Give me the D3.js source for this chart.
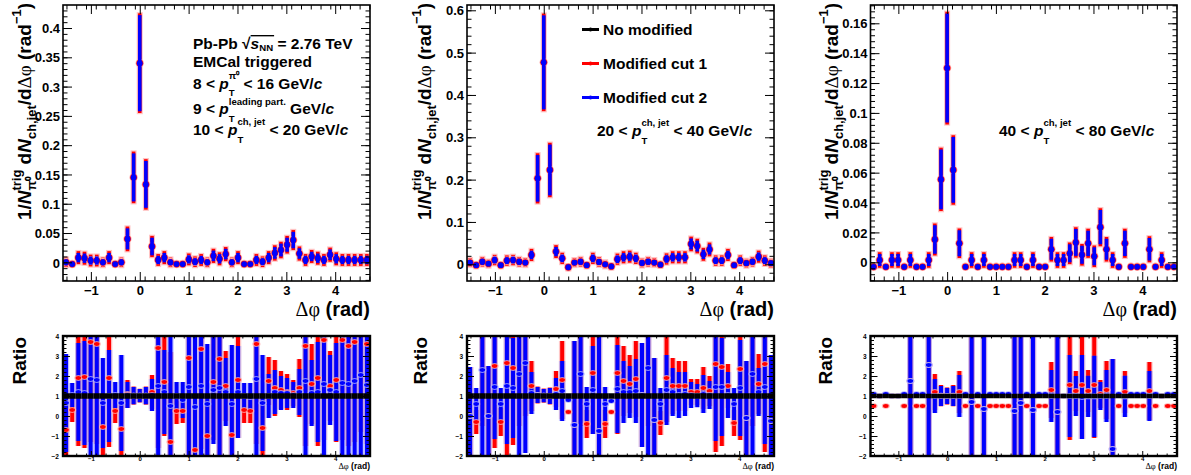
<!DOCTYPE html>
<html><head><meta charset="utf-8">
<script src="https://cdn.jsdelivr.net/npm/d3@7"></script>
<style>
body{margin:0;background:#fff;}
svg{display:block;}
</style>
</head><body>
<svg id="c" width="1191" height="475"></svg>
<script>
// ---------------- DATA ----------------
// bin centres in delta-phi (rad), 50 bins from -pi/2 to 3pi/2
const phiBins = [-1.5080,-1.3823,-1.2566,-1.1310,-1.0053,-0.8796,-0.7540,-0.6283,-0.5027,-0.3770,
 -0.2513,-0.1257,0.0000,0.1257,0.2513,0.3770,0.5027,0.6283,0.7540,0.8796,
 1.0053,1.1310,1.2566,1.3823,1.5080,1.6336,1.7593,1.8850,2.0106,2.1363,
 2.2619,2.3876,2.5133,2.6389,2.7646,2.8903,3.0159,3.1416,3.2673,3.3929,
 3.5186,3.6442,3.7699,3.8956,4.0212,4.1469,4.2726,4.3982,4.5239,4.6496];

const seriesNames = ["No modified","Modified cut 1","Modified cut 2"];

// panel 1: 10 < pT ch,jet < 20 GeV/c
const p1Val = [0.000,-0.003,0.008,0.007,0.003,0.003,0.000,0.008,-0.003,0.000,
 0.040,0.145,0.340,0.133,0.027,0.004,0.008,0.000,-0.003,-0.003,
 0.005,0.001,0.004,0.000,0.011,0.006,0.014,0.000,0.008,-0.003,
 -0.003,0.004,0.001,0.008,0.016,0.021,0.030,0.038,0.015,0.004,
 0.010,0.007,0.004,0.013,0.006,0.004,0.004,0.004,0.004,0.004];
const p1Err = [0.005,0.001,0.008,0.008,0.007,0.007,0.005,0.008,0.001,0.005,
 0.018,0.041,0.082,0.040,0.015,0.007,0.008,0.005,0.001,0.001,
 0.007,0.006,0.007,0.005,0.009,0.008,0.009,0.005,0.008,0.001,
 0.001,0.007,0.006,0.008,0.010,0.011,0.012,0.014,0.009,0.007,
 0.008,0.008,0.007,0.009,0.008,0.007,0.007,0.007,0.007,0.007];

// panel 2: 20 < pT ch,jet < 40 GeV/c
const p2Val = [0.004,-0.002,0.006,0.0015,0.010,-0.002,0.0087,0.010,0.006,0.004,
 0.022,0.203,0.477,0.2228,0.030,0.014,-0.007,0.004,0.006,-0.002,
 0.014,0.0055,0.000,-0.005,0.012,0.0165,0.018,0.014,0.003,0.006,
 0.004,-0.001,0.0125,0.0165,0.0165,0.0165,0.048,0.043,0.0235,0.035,
 0.0087,0.0087,0.022,-0.002,0.0087,0.0025,0.006,0.018,0.0087,0.0025];
const p2Err = [0.006,0.003,0.007,0.005,0.008,0.003,0.008,0.008,0.007,0.006,
 0.010,0.055,0.111,0.060,0.011,0.009,0.003,0.006,0.007,0.003,
 0.009,0.007,0.005,0.003,0.009,0.010,0.010,0.009,0.006,0.007,
 0.006,0.003,0.009,0.010,0.010,0.010,0.013,0.013,0.011,0.012,
 0.008,0.008,0.010,0.003,0.008,0.006,0.007,0.010,0.008,0.006];

// panel 3: 40 < pT ch,jet < 80 GeV/c
const p3Val = [-0.003,0.0015,-0.003,0.0015,0.0015,-0.003,0.0015,-0.003,-0.003,0.0015,
 0.0153,0.0555,0.130,0.0618,0.0127,-0.003,0.0015,-0.003,0.0015,-0.003,
 -0.003,-0.003,-0.003,0.0015,0.0015,-0.003,0.0015,-0.003,-0.003,0.0087,
 0.0015,0.0015,0.006,0.0133,0.005,0.0127,0.004,0.0235,0.0087,0.0015,
 -0.003,0.0127,-0.003,-0.003,-0.003,0.0087,-0.003,0.0015,-0.003,-0.003];
const p3Err = [0,0.004,0,0.004,0.004,0,0.004,0,0,0.004,
 0.0095,0.020,0.0365,0.022,0.0087,0,0.004,0,0.004,0,
 0,0,0,0.004,0.004,0,0.004,0,0,0.007,
 0.004,0.004,0.006,0.009,0.006,0.0085,0.006,0.0115,0.007,0.004,
 0,0.0085,0,0,0,0.0075,0,0.004,0,0];

// ratios to "No modified"
const ratioBlack = [1,1,1,1,1,1,1,1,1,1,1,1,1,1,1,1,1,1,1,1,1,1,1,1,1,
 1,1,1,1,1,1,1,1,1,1,1,1,1,1,1,1,1,1,1,1,1,1,1,1,1];

const r1Blue = [0.65,1.05,1.2,1.15,1.85,1.8,0.65,1.0,1.05,0.65,
 1.05,1.02,1.02,1.02,1.05,1.5,1.2,0.5,1.0,0.8,
 1.45,0.45,1.5,0.6,1.3,1.4,1.2,0.6,1.2,1.0,
 0.95,1.85,0.65,1.0,1.2,1.15,1.15,1.05,1.2,1.75,
 1.15,1.2,1.6,1.3,1.2,1.65,1.6,1.75,2.05,1.55];
const r1BlueErr = [2.45,0.6,2.45,2.6,4.5,4.5,2.25,2.3,0.65,2.4,
 0.65,0.43,0.33,0.43,0.8,4.5,2.1,4.5,0.7,0.9,
 4.5,4.5,4.5,3.0,2.7,4.5,1.7,2.95,2.3,0.65,
 0.7,4.5,2.4,1.1,1.1,0.85,0.75,0.65,1.15,4.5,
 1.65,2.5,4.5,1.75,2.45,4.5,4.5,4.5,4.5,4.5];
const r1Red = [-0.7,0.3,1.9,1.95,3.7,3.6,-0.55,1.9,0.25,-0.65,
 1.1,1.02,1.02,1.02,1.2,3.4,1.7,-1.3,0.25,0.25,
 2.9,-1.7,3.35,-1.0,1.7,2.85,1.5,-0.95,1.8,0.3,
 0.25,3.6,-0.6,1.75,1.4,1.3,1.2,1.15,1.4,3.5,
 1.6,1.9,3.8,1.5,1.8,3.8,3.5,3.7,4.2,3.6];
const r1RedErr = [2.0,0.6,3.4,3.55,5,5,1.5,3.45,0.6,1.4,
 0.7,0.45,0.34,0.45,0.85,5,2.7,4.5,0.65,0.6,
 5,4.5,5,2.0,2.9,5,1.75,2.0,2.9,0.65,
 0.6,5,1.5,1.2,1.4,0.95,0.9,0.65,1.45,5,
 2.0,3.4,5,1.75,3.1,5,5,5,5,5];

const r2Blue = [0.0,0.6,2.3,0.0,1.45,0.6,1.5,1.4,2.1,2.65,
 1.15,1.05,1.02,1.0,1.1,1.25,0.8,-0.45,2.1,0.6,
 1.3,-0.75,0.6,0.75,1.35,1.2,1.2,1.25,1.05,2.4,
 -0.2,0.6,1.3,1.2,1.05,1.1,1.05,1.02,1.1,1.05,
 1.45,1.45,1.05,0.6,1.4,-0.1,2.1,1.2,1.45,-0.25];
const r2BlueErr = [2.45,0.8,4.5,2.5,2.6,0.8,2.9,2.5,4.5,4.5,
 1.05,0.4,0.33,0.4,0.8,1.5,0.0,4.2,4.5,0.85,
 2.2,4.8,0.85,0.05,2.2,1.55,1.3,1.6,2.6,4.5,
 3.1,0.8,1.75,1.2,1.15,1.1,0.65,0.58,0.95,0.7,
 2.7,2.45,1.15,0.8,2.4,2.85,4.5,1.2,2.85,3.3];
const r2Red = [0.0,-0.3,4.5,0.0,2.5,-0.3,2.65,2.4,4.5,5.0,
 1.5,1.05,1.02,1.0,1.35,1.8,0.2,-0.45,4.5,-0.4,
 2.15,-0.75,-0.4,0.2,2.15,1.75,1.6,1.85,1.05,4.5,
 -0.2,-0.35,1.9,1.5,1.5,1.5,1.2,1.2,1.4,1.25,
 2.6,2.45,1.5,-0.35,2.35,-0.1,4.5,1.6,2.6,-0.25];
const r2RedErr = [2.45,0.6,5,2.5,4.1,0.7,4.65,3.85,5,5,
 1.25,0.42,0.35,0.42,0.9,1.95,0.1,4.2,5,0.7,
 3.05,4.8,0.7,0.1,3.05,1.75,1.45,1.9,2.6,5,
 3.1,0.6,2.2,1.4,1.25,1.25,0.65,0.65,1.05,0.75,
 4.4,3.95,1.1,0.65,3.55,2.85,5,1.5,4.4,3.3];

const r3Blue = [1.1,1.0,1.1,1.0,1.0,1.1,1.75,1.1,1.1,2.55,
 1.0,1.0,1.0,1.0,1.0,1.1,0.7,1.1,0.35,1.1,
 1.1,1.1,1.1,0.25,0.65,1.1,0.3,1.1,1.1,1.0,
 0.2,1.0,1.0,1.0,0.95,0.98,0.98,1.0,1.0,-1.65,
 1.1,0.98,1.1,1.1,1.1,1.0,1.1,1.0,1.1,1.1];
const r3BlueErr = [0,0,0,0,0,0,4.5,0,0,4.5,
 0.85,0.5,0.4,0.5,1.05,0,4.5,0,4.5,0,
 0,0,0,4.5,4.5,0,4.5,0,0,1.3,
 4.5,0,2.05,1.0,2.1,1.03,2.03,0.7,1.3,4.5,
 0,1.03,0,0,0,1.25,0,0,0,0];
const r3Red = [0.5,1.0,0.5,1.0,1.0,0.5,1.75,0.5,0.5,2.55,
 1.2,1.02,1.0,1.02,1.2,0.5,0.7,0.5,0.35,0.5,
 0.5,0.5,0.5,0.25,0.65,0.5,0.3,0.5,0.5,1.3,
 0.2,1.0,1.55,1.25,1.55,1.25,1.55,1.1,1.3,-1.65,
 0.5,1.2,0.5,0.5,0.5,1.25,0.5,1.0,0.5,0.5];
const r3RedErr = [0,0,0,0,0,0,4.5,0,0,4.5,
 0.9,0.53,0.42,0.53,1.05,0,4.5,0,4.5,0,
 0,0,0,4.5,4.5,0,4.5,0,0,1.4,
 4.5,0,2.75,1.0,2.7,1.05,2.65,0.7,1.45,4.5,
 0,1.05,0,0,0,1.45,0,0,0,0];

// tick labels
const xTickValues = [-1,0,1,2,3,4];
const xTickLabels = ["\u22121","0","1","2","3","4"];
const p1YTicks = [0,0.05,0.1,0.15,0.2,0.25,0.3,0.35,0.4];
const p1YLabels = ["0","0.05","0.1","0.15","0.2","0.25","0.3","0.35","0.4"];
const p2YTicks = [0,0.1,0.2,0.3,0.4,0.5,0.6];
const p2YLabels = ["0","0.1","0.2","0.3","0.4","0.5","0.6"];
const p3YTicks = [0,0.02,0.04,0.06,0.08,0.1,0.12,0.14,0.16];
const p3YLabels = ["0","0.02","0.04","0.06","0.08","0.1","0.12","0.14","0.16"];
const ratioYTicks = [-2,-1,0,1,2,3,4];
const ratioYLabels = ["\u22122","\u22121","0","1","2","3","4"];

// ---------------- DRAWING ----------------
const FONT = '"Liberation Sans", Arial, Helvetica, sans-serif';
const SERIF = '"Liberation Serif", "Times New Roman", serif';
const svg = d3.select("#c");
const RED = "#ff0000", BLUE = "#0000ff";

function putText(g, str, x, y, fs, o = {}) {
  const t = g.append("text").attr("x", x).attr("y", y).attr("font-size", fs)
    .attr("font-family", o.serif ? SERIF : FONT)
    .attr("font-weight", o.serif ? "normal" : "bold")
    .attr("font-style", o.i ? "italic" : "normal")
    .attr("fill", "#000").text(str.replace(/ /g, "\u00a0"));
  return t.node().getComputedTextLength();
}
function rich(g, x, y, fs, parts, opt = {}) {
  let cx = x, ovStart = null;
  const ss = opt.ss || 0.62, supDy = opt.supDy || -0.62, subDy = opt.subDy || 0.52;
  for (const p of parts) {
    if (p.ovStart) { ovStart = cx; continue; }
    if (p.ovEnd) {
      g.append("line").attr("x1", ovStart).attr("x2", cx + 1)
        .attr("y1", y - fs * 0.86).attr("y2", y - fs * 0.86)
        .attr("stroke", "#000").attr("stroke-width", 1.4);
      continue;
    }
    if (p.t !== undefined) cx += putText(g, p.t, cx, y, fs, p);
    else {
      let w = 0;
      if (p.sup) w = Math.max(w, putText(g, p.sup, cx, y + fs * (p.supDy || supDy), fs * ss, {i: p.supI}));
      if (p.sub) w = Math.max(w, putText(g, p.sub, cx, y + fs * (p.subDy || subDy), fs * ss, {i: p.subI}));
      cx += w;
    }
  }
  return cx - x;
}
function rotatedRich(x, yTop, fs, parts, opt) {
  const g = svg.append("g");
  const inner = g.append("g");
  const w = rich(inner, 0, 0, fs, parts, opt);
  g.attr("transform", `translate(${x},${yTop}) rotate(-90) translate(${-w},0)`);
}

const xDomain = [-Math.PI / 2, 1.5 * Math.PI];
const xMinor = d3.range(-15, 48, 2).map(d => d / 10);
const TOP_Y0 = 281, TOP_Y1 = 5, R_Y0 = 456, R_Y1 = 336;

const topPanels = [
  {L: 63, R: 370, yDom: [-0.0319, 0.4393], yT: p1YTicks, yL: p1YLabels, minor: 0.01, val: p1Val, err: p1Err,
   rB: r1Blue, rBE: r1BlueErr, rR: r1Red, rRE: r1RedErr, titleX: 31, ratioX: 26},
  {L: 467, R: 774, yDom: [-0.0395, 0.6125], yT: p2YTicks, yL: p2YLabels, minor: 0.02, val: p2Val, err: p2Err,
   rB: r2Blue, rBE: r2BlueErr, rR: r2Red, rRE: r2RedErr, titleX: 431, ratioX: 427},
  {L: 870.5, R: 1177, yDom: [-0.01252, 0.17224], yT: p3YTicks, yL: p3YLabels, minor: 0.004, val: p3Val, err: p3Err,
   rB: r3Blue, rBE: r3BlueErr, rR: r3Red, rRE: r3RedErr, titleX: 838, ratioX: 832}
];

function styleAxis(g, fs) {
  g.select(".domain").remove();
  g.selectAll("line").attr("stroke", "#000").attr("stroke-width", 1);
  g.selectAll("text").attr("font-family", FONT).attr("font-weight", "bold")
    .attr("font-size", fs).attr("fill", "#000");
}

topPanels.forEach((P, pi) => {
  const x = d3.scaleLinear().domain(xDomain).range([P.L, P.R]);
  const y = d3.scaleLinear().domain(P.yDom).range([TOP_Y0, TOP_Y1]);
  const yr = d3.scaleLinear().domain([-2, 4]).range([R_Y0, R_Y1]);

  // ---------- top panel ----------
  const clipId = "clipT" + pi;
  svg.append("clipPath").attr("id", clipId).append("rect")
    .attr("x", P.L).attr("y", TOP_Y1).attr("width", P.R - P.L).attr("height", TOP_Y0 - TOP_Y1);
  const g = svg.append("g").attr("clip-path", `url(#${clipId})`);

  const yMinorT = d3.range(Math.ceil(P.yDom[0] / P.minor), Math.floor(P.yDom[1] / P.minor) + 1).map(k => +(k * P.minor).toFixed(5));

  // axes (ticks inside)
  styleAxis(svg.append("g").attr("transform", `translate(0,${TOP_Y0})`)
    .call(d3.axisBottom(x).tickValues(xMinor).tickSize(-4.5).tickFormat("")), 13);
  const xa = svg.append("g").attr("transform", `translate(0,${TOP_Y0})`)
    .call(d3.axisBottom(x).tickValues(xTickValues).tickSize(-9).tickPadding(5).tickFormat((d, i) => xTickLabels[i]));
  styleAxis(xa, 13);
  xa.selectAll("text").attr("dy", "0").attr("y", 14);
  styleAxis(svg.append("g").attr("transform", `translate(0,${TOP_Y1})`)
    .call(d3.axisTop(x).tickValues(xMinor).tickSize(-4.5).tickFormat("")), 13);
  styleAxis(svg.append("g").attr("transform", `translate(0,${TOP_Y1})`)
    .call(d3.axisTop(x).tickValues(xTickValues).tickSize(-9).tickFormat("")), 13);
  styleAxis(svg.append("g").attr("transform", `translate(${P.L},0)`)
    .call(d3.axisLeft(y).tickValues(yMinorT).tickSize(-4.5).tickFormat("")), 13);
  const ya = svg.append("g").attr("transform", `translate(${P.L},0)`)
    .call(d3.axisLeft(y).tickValues(P.yT).tickSize(-9).tickPadding(3).tickFormat((d, i) => P.yL[i]));
  styleAxis(ya, 13);
  ya.selectAll("text").attr("dy", "0.36em");
  styleAxis(svg.append("g").attr("transform", `translate(${P.R},0)`)
    .call(d3.axisRight(y).tickValues(yMinorT).tickSize(-4.5).tickFormat("")), 13);
  styleAxis(svg.append("g").attr("transform", `translate(${P.R},0)`)
    .call(d3.axisRight(y).tickValues(P.yT).tickSize(-9).tickFormat("")), 13);

  const idx = d3.range(phiBins.length);
  // black (no modified) - drawn first, hidden beneath others
  g.selectAll(null).data(idx).join("line")
    .attr("x1", i => x(phiBins[i])).attr("x2", i => x(phiBins[i]))
    .attr("y1", i => y(P.val[i] - P.err[i])).attr("y2", i => y(P.val[i] + P.err[i]))
    .attr("stroke", "#000").attr("stroke-width", 3);
  g.selectAll(null).data(idx).join("circle")
    .attr("cx", i => x(phiBins[i])).attr("cy", i => y(P.val[i])).attr("r", 3).attr("fill", "#000");
  // red
  g.selectAll(null).data(idx).join("line")
    .attr("x1", i => x(phiBins[i])).attr("x2", i => x(phiBins[i]))
    .attr("y1", i => y(P.val[i] - P.err[i])).attr("y2", i => y(P.val[i] + P.err[i]))
    .attr("stroke", "#ff9a9a").attr("stroke-width", 6).attr("stroke-linecap", "square").attr("opacity", 0.6);
  g.selectAll(null).data(idx).join("line")
    .attr("x1", i => x(phiBins[i])).attr("x2", i => x(phiBins[i]))
    .attr("y1", i => y(P.val[i] - P.err[i])).attr("y2", i => y(P.val[i] + P.err[i]))
    .attr("stroke", RED).attr("stroke-width", 3.6).attr("stroke-linecap", "square");
  g.selectAll(null).data(idx).join("circle")
    .attr("cx", i => x(phiBins[i])).attr("cy", i => y(P.val[i])).attr("r", 4.2).attr("fill", "#ffb0b0");
  g.selectAll(null).data(idx).join("circle")
    .attr("cx", i => x(phiBins[i])).attr("cy", i => y(P.val[i])).attr("r", 3.4).attr("fill", RED);
  // blue
  g.selectAll(null).data(idx).join("line")
    .attr("x1", i => x(phiBins[i])).attr("x2", i => x(phiBins[i]))
    .attr("y1", i => y(P.val[i] - P.err[i])).attr("y2", i => y(P.val[i] + P.err[i]))
    .attr("stroke", BLUE).attr("stroke-width", 3.6);
  g.selectAll(null).data(idx).join("circle")
    .attr("cx", i => x(phiBins[i])).attr("cy", i => y(P.val[i])).attr("r", 2.9).attr("fill", BLUE);

  svg.append("rect").attr("x", P.L).attr("y", TOP_Y1).attr("width", P.R - P.L).attr("height", TOP_Y0 - TOP_Y1)
    .attr("fill", "none").attr("stroke", "#000").attr("stroke-width", 1.6);

  // titles
  const xt = svg.append("g");
  const wx = rich(xt, 0, 0, 20, [{t: "\u0394\u03c6", serif: true}, {t: " (rad)"}]);
  xt.attr("transform", `translate(${P.R - wx},316)`);
  rotatedRich(P.titleX, 3, 19, [{t: "1/"}, {t: "N", i: true}, {sup: "trig", sub: "\u03c0\u2070"}, {t: " d"}, {t: "N", i: true},
    {sub: "ch,jet"}, {t: "/d"}, {t: "\u0394\u03c6", serif: true}, {t: " (rad"}, {sup: "\u22121"}, {t: ")"}],
    {ss: 0.68, supDy: -0.52, subDy: 0.24});

  // ---------- ratio panel ----------
  const clipR = "clipR" + pi;
  svg.append("clipPath").attr("id", clipR).append("rect")
    .attr("x", P.L).attr("y", R_Y1).attr("width", P.R - P.L).attr("height", R_Y0 - R_Y1);
  const gr = svg.append("g").attr("clip-path", `url(#${clipR})`);

  const rMinor = d3.range(-10, 21).map(k => k / 5);
  styleAxis(svg.append("g").attr("transform", `translate(0,${R_Y0})`)
    .call(d3.axisBottom(x).tickValues(xMinor).tickSize(-2.5).tickFormat("")), 6);
  const rxa = svg.append("g").attr("transform", `translate(0,${R_Y0})`)
    .call(d3.axisBottom(x).tickValues(xTickValues).tickSize(-5).tickPadding(2).tickFormat((d, i) => xTickLabels[i]));
  styleAxis(rxa, 6);
  rxa.selectAll("text").attr("dy", "0").attr("y", 5);
  styleAxis(svg.append("g").attr("transform", `translate(0,${R_Y1})`)
    .call(d3.axisTop(x).tickValues(xMinor).tickSize(-2.5).tickFormat("")), 6);
  styleAxis(svg.append("g").attr("transform", `translate(${P.L},0)`)
    .call(d3.axisLeft(yr).tickValues(rMinor).tickSize(-3.5).tickFormat("")), 6);
  const rya = svg.append("g").attr("transform", `translate(${P.L},0)`)
    .call(d3.axisLeft(yr).tickValues(ratioYTicks).tickSize(-7).tickPadding(4).tickFormat((d, i) => ratioYLabels[i]));
  styleAxis(rya, 6.5);
  rya.selectAll("text").attr("dy", "0.36em");
  styleAxis(svg.append("g").attr("transform", `translate(${P.R},0)`)
    .call(d3.axisRight(yr).tickValues(rMinor).tickSize(-3.5).tickFormat("")), 6);
  styleAxis(svg.append("g").attr("transform", `translate(${P.R},0)`)
    .call(d3.axisRight(yr).tickValues(ratioYTicks).tickSize(-7).tickFormat("")), 6);

  function bars(vals, errs, color, halo) {
    gr.selectAll(null).data(idx.filter(i => errs[i] > 0)).join("line")
      .attr("x1", i => x(phiBins[i])).attr("x2", i => x(phiBins[i]))
      .attr("y1", i => yr(vals[i] - errs[i])).attr("y2", i => yr(vals[i] + errs[i]))
      .attr("stroke", halo).attr("stroke-width", 6.5).attr("opacity", 0.55);
    gr.selectAll(null).data(idx.filter(i => errs[i] > 0)).join("line")
      .attr("x1", i => x(phiBins[i])).attr("x2", i => x(phiBins[i]))
      .attr("y1", i => yr(vals[i] - errs[i])).attr("y2", i => yr(vals[i] + errs[i]))
      .attr("stroke", color).attr("stroke-width", 4);
  }
  function marks(vals, color, halo) {
    gr.selectAll(null).data(idx).join("ellipse")
      .attr("cx", i => x(phiBins[i])).attr("cy", i => yr(vals[i])).attr("rx", 4).attr("ry", 2.8).attr("fill", halo);
    gr.selectAll(null).data(idx).join("ellipse")
      .attr("cx", i => x(phiBins[i])).attr("cy", i => yr(vals[i])).attr("rx", 2.8).attr("ry", 1.9).attr("fill", color);
  }
  bars(P.rR, P.rRE, RED, "#ff9a9a");
  bars(P.rB, P.rBE, BLUE, "#9a9aff");
  marks(P.rR, RED, "#ffb0b0");
  marks(P.rB, BLUE, "#b0b0ff");
  // black reference (ratio = 1)
  const hw = Math.PI / 50;
  gr.selectAll(null).data(idx).join("line")
    .attr("x1", i => x(phiBins[i] - hw)).attr("x2", i => x(phiBins[i] + hw))
    .attr("y1", i => yr(ratioBlack[i])).attr("y2", i => yr(ratioBlack[i]))
    .attr("stroke", "#000").attr("stroke-width", pi === 2 ? 4.5 : 5.5);

  svg.append("rect").attr("x", P.L).attr("y", R_Y1).attr("width", P.R - P.L).attr("height", R_Y0 - R_Y1)
    .attr("fill", "none").attr("stroke", "#000").attr("stroke-width", 2.4);

  const rxt = svg.append("g");
  const wrx = rich(rxt, 0, 0, 8.5, [{t: "\u0394\u03c6", serif: true}, {t: " (rad)"}]);
  rxt.attr("transform", `translate(${P.R - wrx},469)`);
  rotatedRich(P.ratioX, 337, 19, [{t: "Ratio"}]);
});

// ---------- annotations ----------
const ann = svg.append("g");
rich(ann, 193, 49, 15.5, [{t: "Pb-Pb "}, {t: "\u221a"}, {ovStart: true}, {t: "s", i: true}, {sub: "NN", subDy: 0.16}, {ovEnd: true}, {t: " = 2.76 TeV"}]);
rich(ann, 193, 67, 15.5, [{t: "EMCal triggered"}]);
rich(ann, 193, 89, 15.5, [{t: "8 < "}, {t: "p", i: true}, {sup: "\u03c0\u2070", sub: "T", subDy: 0.46}, {t: " < 16 GeV/"}, {t: "c", i: true}]);
rich(ann, 193, 113.5, 15.5, [{t: "9 < "}, {t: "p", i: true}, {sup: "leading part.", sub: "T", supDy: -0.56}, {t: " GeV/"}, {t: "c", i: true}]);
rich(ann, 193, 135, 15.5, [{t: "10 < "}, {t: "p", i: true}, {sup: "ch, jet", sub: "T"}, {t: " < 20 GeV/"}, {t: "c", i: true}]);
rich(ann, 597, 136, 15.5, [{t: "20 < "}, {t: "p", i: true}, {sup: "ch, jet", sub: "T"}, {t: " < 40 GeV/"}, {t: "c", i: true}]);
rich(ann, 999, 136, 15.5, [{t: "40 < "}, {t: "p", i: true}, {sup: "ch, jet", sub: "T"}, {t: " < 80 GeV/"}, {t: "c", i: true}]);

// ---------- legend ----------
const legColors = ["#000", RED, BLUE];
const legY = [35, 69, 103];
seriesNames.forEach((n, k) => {
  const cy = legY[k] - 5.5;
  svg.append("line").attr("x1", 582).attr("x2", 599).attr("y1", cy).attr("y2", cy)
    .attr("stroke", legColors[k]).attr("stroke-width", 3);
  svg.append("circle").attr("cx", 590.5).attr("cy", cy).attr("r", 2).attr("fill", legColors[k]);
  rich(svg, 603, legY[k], 15.5, [{t: n}]);
});
</script>
</body></html>
